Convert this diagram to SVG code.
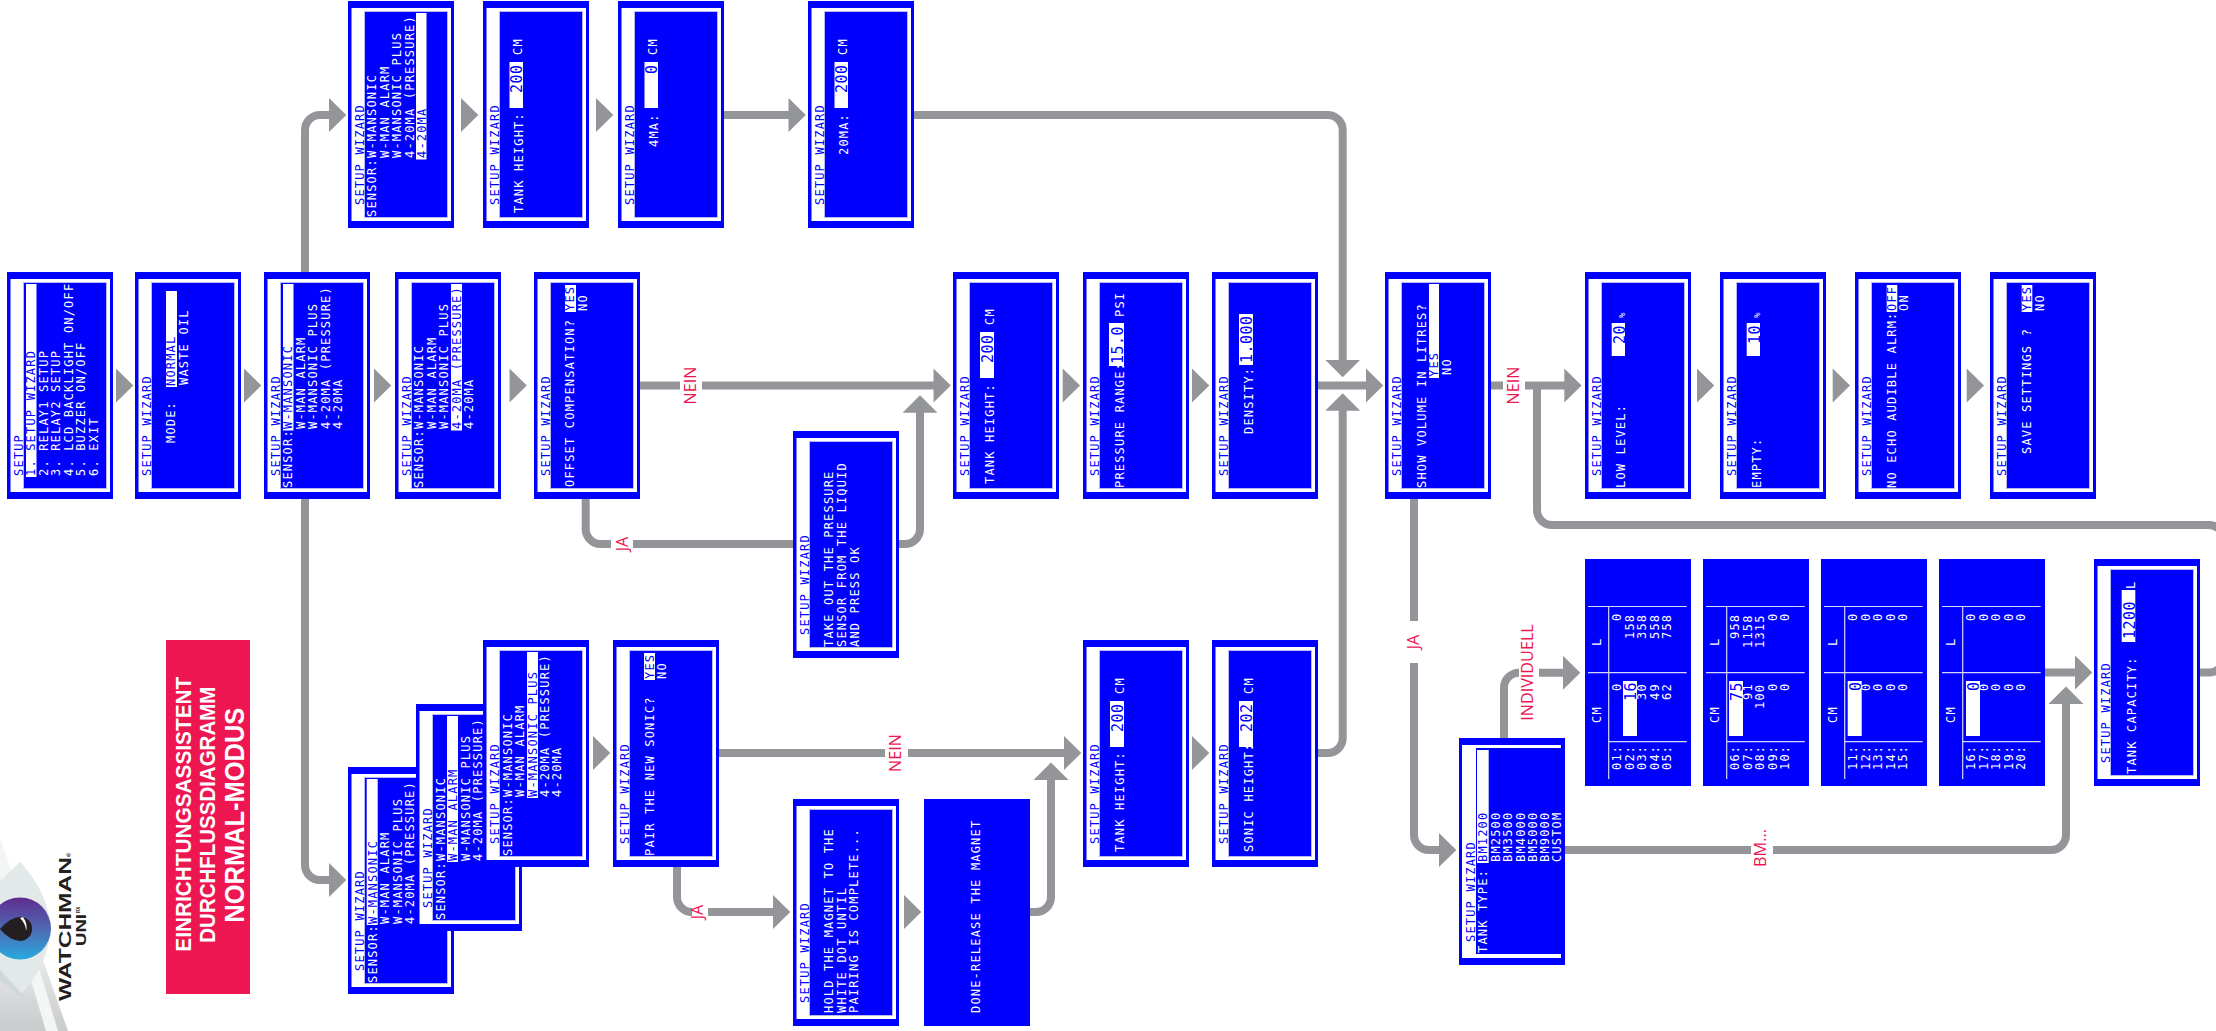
<svg xmlns="http://www.w3.org/2000/svg" width="2216" height="1031" viewBox="0 0 2216 1031">
<style>
text{font-family:"DejaVu Sans Mono","Liberation Mono",monospace;font-size:12px;letter-spacing:1.18px;fill:#fff}
.b{fill:#00f}
.v{fill:#00f;font-size:15px;letter-spacing:.5px}
.o{fill:#00f}.w{fill:#fff}.i{fill:#00f;stroke:#b8b8f8;stroke-width:1}.h{fill:#fff}
.c{fill:none;stroke:#939598;stroke-width:8}
.a{fill:#939598}
.l{font-family:"Open Sans","Liberation Sans",sans-serif;font-size:16.2px;letter-spacing:0;fill:#ed1651;text-anchor:middle}
.t{font-family:"Liberation Sans",Arial,sans-serif;font-weight:700;fill:#fff;letter-spacing:0}
.k{font-family:"Liberation Sans",Arial,sans-serif;font-weight:700;fill:#231f20;letter-spacing:0}
.g{stroke:#d8d8ff;stroke-width:1.2;fill:none}
</style>
<defs>
<g id="scr"><rect class="o" width="227" height="106"/><rect class="w" x="7" y="3.5" width="213" height="99.5"/><rect class="i" x="10.5" y="16.5" width="206" height="83"/></g>
<g id="grid"><rect class="o" width="227" height="106"/><path class="g" d="M7 23.7H179.5M113.3 3V101.7M179.5 3V101.7M44.3 23.7V101.7"/><text x="63" y="16">CM</text><text x="140" y="16">L</text></g>
<path id="ar" class="a" d="M0-17L17.3 0L0 17Z"/>
<path id="ad" class="a" d="M-17.3 0H17.3L0 17.3Z"/>
<path id="au" class="a" d="M-17.5 0H17.5L0-17.5Z"/>
<linearGradient id="gw" x1="0" y1="0" x2="0" y2="1"><stop offset="0" stop-color="#f6f7f7"/><stop offset=".6" stop-color="#e9eaeb"/><stop offset="1" stop-color="#c9cbcd"/></linearGradient>
<linearGradient id="gi" x1="0" y1="0" x2="0" y2="1"><stop offset="0" stop-color="#5f2d91"/><stop offset=".5" stop-color="#4f68b0"/><stop offset="1" stop-color="#27aae1"/></linearGradient>
</defs>

<g id="connectors">
<path class="c" d="M640 385.5H680M702 385.5H935M1318 385.5H1368"/>
<path class="c" d="M305 272V130a15 15 0 0 1 15-15H331M305 499V865a15 15 0 0 0 15 15H331"/>
<path class="c" d="M724 115H790M914 115H1327.7a15 15 0 0 1 15 15V362"/>
<path class="c" d="M585.7 499V529a15 15 0 0 0 15 15H611M633 544H793M899 544H905a15 15 0 0 0 15-15V411"/>
<path class="c" d="M719 753H885M908 753H1066M677 867V897a15 15 0 0 0 15 15M708 912H774M1030 912H1036a15 15 0 0 0 15-15V778M1318 753H1327.7a15 15 0 0 0 15-15V409"/>
<path class="c" d="M1491 385.5H1503M1525 385.5H1566M2200 672.5H2209a15 15 0 0 0 15-15V540a15 15 0 0 0-15-15H1552a15 15 0 0 1-15-15V385.5"/>
<path class="c" d="M1414 499V621M1414 663V835a15 15 0 0 0 15 15H1441M1504 738V687.7a15 15 0 0 1 15-15M1539 672.7H1565M1565 850H1751M1773 850H2051a15 15 0 0 0 15-15V702M2045 672.5H2077"/>
<use href="#ar" x="116" y="385.5"/><use href="#ar" x="244" y="385.5"/><use href="#ar" x="374" y="385.5"/><use href="#ar" x="509.5" y="385.5"/><use href="#ar" x="933.5" y="385.5"/><use href="#ar" x="1062.7" y="385.5"/><use href="#ar" x="1192" y="385.5"/><use href="#ar" x="1366" y="385.5"/><use href="#ar" x="1564.3" y="385.5"/>
<use href="#ar" x="1697" y="385.5"/><use href="#ar" x="1832.7" y="385.5"/><use href="#ar" x="1966.7" y="385.5"/>
<use href="#ar" x="329" y="115"/><use href="#ar" x="461" y="115"/><use href="#ar" x="596" y="115"/><use href="#ar" x="788.5" y="115"/>
<use href="#ar" x="329" y="880"/><use href="#ar" x="593" y="753"/><use href="#ar" x="1064" y="753"/><use href="#ar" x="773" y="912"/><use href="#ar" x="904" y="912"/><use href="#ar" x="1192" y="753"/>
<use href="#ar" x="1439" y="850"/><use href="#ar" x="1563" y="672.7"/><use href="#ar" x="2075" y="672.5"/>
<use href="#ad" x="1342.7" y="360"/><use href="#au" x="1342.7" y="410.7"/><use href="#au" x="920" y="412.7"/><use href="#au" x="1051" y="780"/><use href="#au" x="2066" y="704"/>
<text class="l" transform="translate(696 385.5) rotate(-90)">NEIN</text>
<text class="l" transform="translate(628 544) rotate(-90)">JA</text>
<text class="l" transform="translate(900.5 753) rotate(-90)">NEIN</text>
<text class="l" transform="translate(703 912) rotate(-90)">JA</text>
<text class="l" transform="translate(1518.5 385.5) rotate(-90)">NEIN</text>
<text class="l" transform="translate(1419 642) rotate(-90)">JA</text>
<text class="l" transform="translate(1533 672.5) rotate(-90)">INDIVIDUELL</text>
<text class="l" transform="translate(1766 848) rotate(-90)">BM...</text>
</g>

<g id="title">
<rect x="166" y="640" width="84" height="354" fill="#ed1651"/>
<text class="t" transform="translate(190.7 951.7) rotate(-90)" textLength="275" lengthAdjust="spacingAndGlyphs" style="font-size:22px">EINRICHTUNGSASSISTENT</text>
<text class="t" transform="translate(215 942.7) rotate(-90)" textLength="256" lengthAdjust="spacingAndGlyphs" style="font-size:22px">DURCHFLUSSDIAGRAMM</text>
<text class="t" transform="translate(244 922.7) rotate(-90)" textLength="215" lengthAdjust="spacingAndGlyphs" style="font-size:28px">NORMAL-MODUS</text>
</g>

<g id="logo">
<path d="M0 838L68 1031H0Z" fill="url(#gw)"/>
<path d="M0 838L58 1031H46L0 875Z" fill="#f4f5f5"/>
<path d="M20 861.7Q50 895 50 928.5Q50 962 20 996L0 975V882Z" fill="#e3e8e8"/>
<path d="M0 970Q14 985 24 996L20 996L0 980Z" fill="#cfd8d8"/>
<circle cx="20" cy="928.5" r="31" fill="url(#gi)"/>
<path d="M0 929Q10 917 21 916.7A12.2 12.2 0 0 1 21 941Q10 941 0 929Z" fill="#231f20"/>
<path d="M23 917Q28 924 26 931Q26 924 20 918Z" fill="#fff"/>
<text class="k" transform="translate(71 1001) rotate(-90)" textLength="144" lengthAdjust="spacingAndGlyphs" style="font-size:17px">WATCHMAN</text>
<text class="k" transform="translate(71 857) rotate(-90)" style="font-size:6px">®</text>
<text class="k" transform="translate(86 946) rotate(-90)" textLength="32" lengthAdjust="spacingAndGlyphs" style="font-size:14px">UNI</text>
<text class="k" transform="translate(80 913) rotate(-90)" style="font-size:4.5px">RX</text>
</g>

<g id="s1" transform="translate(7 499) rotate(-90)"><use href="#scr"/><text class="b" x="23" y="15.5">SETUP</text><rect class="h" x="22" y="19" width="193" height="10.5"/><text class="b" x="23" y="28">1. SETUP WIZARD</text><text x="23" y="40.5">2. RELAY1 SETUP</text><text x="23" y="53">3. RELAY2 SETUP</text><text x="23" y="65.5">4. LCD BACKLIGHT ON/OFF</text><text x="23" y="78">5. BUZZER ON/OFF</text><text x="23" y="90.5">6. EXIT</text></g>
<g id="s2" transform="translate(135 499) rotate(-90)"><use href="#scr"/><text class="b" x="23" y="15.5">SETUP WIZARD</text><text x="56" y="40">MODE:</text><rect class="h" x="112" y="31" width="96" height="11"/><text class="b" x="113" y="40">NORMAL</text><text x="114" y="53">WASTE OIL</text></g>
<g id="s3" transform="translate(264 499) rotate(-90)"><use href="#scr"/><text class="b" x="23" y="15.5">SETUP WIZARD</text><text x="11" y="28">SENSOR:</text><rect class="h" x="68.5" y="19" width="146.5" height="10.5"/><text class="b" x="70" y="28">W-MANSONIC</text><text x="70" y="40.5">W-MAN ALARM</text><text x="70" y="53">W-MANSONIC PLUS</text><text x="70" y="65.5">4-20MA (PRESSURE)</text><text x="70" y="78">4-20MA</text></g>
<g id="s4" transform="translate(395 499) rotate(-90)"><use href="#scr"/><text class="b" x="23" y="15.5">SETUP WIZARD</text><text x="11" y="28">SENSOR:</text><text x="70" y="28">W-MANSONIC</text><text x="70" y="40.5">W-MAN ALARM</text><text x="70" y="53">W-MANSONIC PLUS</text><rect class="h" x="68.5" y="56" width="146.5" height="11"/><text class="b" x="70" y="65.5">4-20MA (PRESSURE)</text><text x="70" y="78">4-20MA</text></g>
<g id="s5" transform="translate(534 499) rotate(-90)"><use href="#scr"/><text class="b" x="23" y="15.5">SETUP WIZARD</text><text x="12" y="40">OFFSET COMPENSATION?</text><rect class="h" x="187" y="31" width="27" height="11"/><text class="b" x="188" y="40">YES</text><text x="188" y="53">NO</text></g>

<g id="a1" transform="translate(348 228) rotate(-90)"><use href="#scr"/><text class="b" x="23" y="15.5">SETUP WIZARD</text><text x="11" y="28">SENSOR:</text><text x="70" y="28">W-MANSONIC</text><text x="70" y="40.5">W-MAN ALARM</text><text x="70" y="53">W-MANSONIC PLUS</text><text x="70" y="65.5">4-20MA (PRESSURE)</text><rect class="h" x="68.5" y="68" width="146.5" height="10.5"/><text class="b" x="70" y="77.5">4-20MA</text></g>
<g id="a2" transform="translate(483 228) rotate(-90)"><use href="#scr"/><text class="b" x="23" y="15.5">SETUP WIZARD</text><text x="15" y="40">TANK HEIGHT:</text><rect class="h" x="120" y="26.5" width="46" height="13.5"/><text class="v" x="135" y="39">200</text><text x="173" y="38.5">CM</text></g>
<g id="a3" transform="translate(618 228) rotate(-90)"><use href="#scr"/><text class="b" x="23" y="15.5">SETUP WIZARD</text><text x="81" y="40">4MA:</text><rect class="h" x="120" y="26.5" width="46" height="13.5"/><text class="v" x="154" y="39">0</text><text x="173" y="38.5">CM</text></g>
<g id="a4" transform="translate(808 228) rotate(-90)"><use href="#scr"/><text class="b" x="23" y="15.5">SETUP WIZARD</text><text x="73" y="40">20MA:</text><rect class="h" x="120" y="26.5" width="46" height="13.5"/><text class="v" x="135" y="39">200</text><text x="173" y="38.5">CM</text></g>

<g id="take" transform="translate(793 658) rotate(-90)"><use href="#scr"/><text class="b" x="23" y="15.5">SETUP WIZARD</text><text x="11" y="40">TAKE OUT THE PRESSURE</text><text x="11" y="53">SENSOR FROM THE LIQUID</text><text x="11" y="65.5">AND PRESS OK</text></g>

<g id="th" transform="translate(953 499) rotate(-90)"><use href="#scr"/><text class="b" x="23" y="15.5">SETUP WIZARD</text><text x="15" y="41">TANK HEIGHT:</text><rect class="h" x="121" y="27" width="46" height="14"/><text class="v" x="136" y="40">200</text><text x="174" y="41">CM</text></g>
<g id="pr" transform="translate(1083 499) rotate(-90)"><use href="#scr"/><text class="b" x="23" y="15.5">SETUP WIZARD</text><text x="11" y="40.5">PRESSURE RANGE:</text><rect class="h" x="133" y="26" width="43" height="15"/><text class="v" x="135" y="40">15.0</text><text x="182" y="40.5">PSI</text></g>
<g id="dn" transform="translate(1212 499) rotate(-90)"><use href="#scr"/><text class="b" x="23" y="15.5">SETUP WIZARD</text><text x="65" y="41">DENSITY:</text><rect class="h" x="134" y="27" width="51" height="14"/><text class="v" x="136" y="40">1.000</text></g>
<g id="sv" transform="translate(1385 499) rotate(-90)"><use href="#scr"/><text class="b" x="23" y="15.5">SETUP WIZARD</text><text x="11" y="41">SHOW VOLUME IN LITRES?</text><rect class="h" x="121" y="44" width="94" height="10"/><text class="b" x="122" y="53">YES</text><text x="124" y="66">NO</text></g>
<g id="ll" transform="translate(1585 499) rotate(-90)"><use href="#scr"/><text class="b" x="23" y="15.5">SETUP WIZARD</text><text x="11" y="40">LOW LEVEL:</text><rect class="h" x="143" y="26.7" width="33" height="13.3"/><text class="v" x="155" y="39.5">20</text><text x="181" y="40" style="font-size:9px">%</text></g>
<g id="em" transform="translate(1720 499) rotate(-90)"><use href="#scr"/><text class="b" x="23" y="15.5">SETUP WIZARD</text><text x="11" y="40.5">EMPTY:</text><rect class="h" x="143" y="26.7" width="33" height="13.3"/><text class="v" x="155" y="39.5">10</text><text x="181" y="40" style="font-size:9px">%</text></g>
<g id="ne" transform="translate(1855 499) rotate(-90)"><use href="#scr"/><text class="b" x="23" y="15.5">SETUP WIZARD</text><text x="11" y="41">NO ECHO AUDIBLE ALRM:</text><rect class="h" x="187" y="31.7" width="27" height="10.6"/><text class="b" x="188" y="40.8">OFF</text><text x="188" y="53">ON</text></g>
<g id="ss" transform="translate(1990 499) rotate(-90)"><use href="#scr"/><text class="b" x="23" y="15.5">SETUP WIZARD</text><text x="45" y="41">SAVE SETTINGS ?</text><rect class="h" x="187" y="31.7" width="27" height="10.6"/><text class="b" x="188" y="40.8">YES</text><text x="188" y="54">NO</text></g>

<g id="tt" transform="translate(1459 965) rotate(-90)"><rect class="o" width="227" height="106"/><rect class="w" x="7" y="3" width="213" height="99"/><rect class="o" x="11" y="17" width="206" height="85"/><text class="b" x="23" y="15.5">SETUP WIZARD</text><text x="12" y="28">TANK TYPE:</text><rect class="h" x="102" y="18" width="113" height="11.7"/><text class="b" x="103" y="28">BM1200</text><text x="103" y="40.5">BM2500</text><text x="103" y="53">BM3500</text><text x="103" y="65.5">BM4000</text><text x="103" y="77.5">BM5000</text><text x="103" y="90">BM9000</text><text x="103" y="102">CUSTOM</text></g>

<g id="t1" transform="translate(1585 786) rotate(-90)"><use href="#grid"/><text x="16" y="36">01:</text><text x="16" y="48.5">02:</text><text x="16" y="61">03:</text><text x="16" y="73.5">04:</text><text x="16" y="86">05:</text><rect class="h" x="50" y="38" width="55" height="14"/><text x="95" y="36">0</text><text class="v" x="85" y="51">16</text><text x="86" y="61">30</text><text x="86" y="73.5">49</text><text x="86" y="86">62</text><text x="165" y="36">0</text><text x="147" y="48.5">158</text><text x="147" y="61">358</text><text x="147" y="73.5">558</text><text x="147" y="86">758</text></g>
<g id="t2" transform="translate(1703 786) rotate(-90)"><use href="#grid"/><text x="16" y="36">06:</text><text x="16" y="48.5">07:</text><text x="16" y="61">08:</text><text x="16" y="73.5">09:</text><text x="16" y="86">10:</text><rect class="h" x="50" y="26" width="55" height="14"/><text class="v" x="85" y="39">75</text><text x="86" y="48.5">91</text><text x="77" y="61">100</text><text x="95" y="73.5">0</text><text x="95" y="86">0</text><text x="147" y="36">958</text><text x="138" y="48.5">1158</text><text x="138" y="61">1315</text><text x="165" y="73.5">0</text><text x="165" y="86">0</text></g>
<g id="t3" transform="translate(1821 786) rotate(-90)"><use href="#grid"/><text x="16" y="36">11:</text><text x="16" y="48.5">12:</text><text x="16" y="61">13:</text><text x="16" y="73.5">14:</text><text x="16" y="86">15:</text><rect class="h" x="50" y="26.7" width="55" height="14"/><text class="v" x="95" y="39.5">0</text><text x="95" y="48.5">0</text><text x="95" y="61">0</text><text x="95" y="73.5">0</text><text x="95" y="86">0</text><text x="165" y="36">0</text><text x="165" y="48.5">0</text><text x="165" y="61">0</text><text x="165" y="73.5">0</text><text x="165" y="86">0</text></g>
<g id="t4" transform="translate(1939 786) rotate(-90)"><use href="#grid"/><text x="16" y="36">16:</text><text x="16" y="48.5">17:</text><text x="16" y="61">18:</text><text x="16" y="73.5">19:</text><text x="16" y="86">20:</text><rect class="h" x="50" y="27" width="55" height="14"/><text class="v" x="95" y="40">0</text><text x="95" y="48.5">0</text><text x="95" y="61">0</text><text x="95" y="73.5">0</text><text x="95" y="86">0</text><text x="165" y="36">0</text><text x="165" y="48.5">0</text><text x="165" y="61">0</text><text x="165" y="73.5">0</text><text x="165" y="86">0</text></g>
<g id="tc" transform="translate(2094 786) rotate(-90)"><use href="#scr"/><text class="b" x="23" y="15.5">SETUP WIZARD</text><text x="12" y="41.5">TANK CAPACITY:</text><rect class="h" x="144" y="27.7" width="52" height="13.6"/><text class="v" x="147" y="40.5">1200</text><text x="197" y="41">L</text></g>

<g id="p1" transform="translate(348 994) rotate(-90)"><use href="#scr"/><text class="b" x="23" y="15.5">SETUP WIZARD</text><text x="11" y="28.5">SENSOR:</text><rect class="h" x="69" y="18.7" width="146" height="11"/><text class="b" x="70" y="28.5">W-MANSONIC</text><text x="70" y="41">W-MAN ALARM</text><text x="70" y="53.5">W-MANSONIC PLUS</text><text x="70" y="66">4-20MA (PRESSURE)</text><text x="70" y="78">4-20MA</text></g>
<g id="p2" transform="translate(416 931) rotate(-90)"><use href="#scr"/><text class="b" x="23" y="15.5">SETUP WIZARD</text><text x="11" y="28.5">SENSOR:</text><text x="70" y="28.5">W-MANSONIC</text><rect class="h" x="69" y="31" width="146" height="11"/><text class="b" x="70" y="41">W-MAN ALARM</text><text x="70" y="53.5">W-MANSONIC PLUS</text><text x="70" y="66">4-20MA (PRESSURE)</text><text x="70" y="78">4-20MA</text></g>
<g id="p3" transform="translate(483 867) rotate(-90)"><use href="#scr"/><text class="b" x="23" y="15.5">SETUP WIZARD</text><text x="11" y="28.5">SENSOR:</text><text x="70" y="28.5">W-MANSONIC</text><text x="70" y="41">W-MAN ALARM</text><rect class="h" x="69" y="44" width="146" height="11"/><text class="b" x="70" y="53.5">W-MANSONIC PLUS</text><text x="70" y="66">4-20MA (PRESSURE)</text><text x="70" y="78">4-20MA</text></g>
<g id="ps" transform="translate(613 867) rotate(-90)"><use href="#scr"/><text class="b" x="23" y="15.5">SETUP WIZARD</text><text x="11" y="40.5">PAIR THE NEW SONIC?</text><rect class="h" x="187" y="31" width="27" height="11"/><text class="b" x="188" y="40.5">YES</text><text x="188" y="53">NO</text></g>
<g id="hold" transform="translate(793 1026) rotate(-90)"><use href="#scr"/><text class="b" x="23" y="15.5">SETUP WIZARD</text><text x="13" y="40">HOLD THE MAGNET TO THE</text><text x="13" y="52.5">WHITE DOT UNTIL</text><text x="13" y="65">PAIRING IS COMPLETE...</text></g>
<g id="done" transform="translate(924 1026) rotate(-90)"><rect class="o" width="227" height="106"/><text x="13" y="56">DONE-RELEASE THE MAGNET</text></g>
<g id="th2" transform="translate(1083 867) rotate(-90)"><use href="#scr"/><text class="b" x="23" y="15.5">SETUP WIZARD</text><text x="15" y="41">TANK HEIGHT:</text><rect class="h" x="120" y="27" width="46" height="14"/><text class="v" x="135" y="40">200</text><text x="173" y="41">CM</text></g>
<g id="sh" transform="translate(1212 867) rotate(-90)"><use href="#scr"/><text class="b" x="23" y="15.5">SETUP WIZARD</text><text x="15" y="41">SONIC HEIGHT:</text><rect class="h" x="120" y="27" width="46" height="14"/><text class="v" x="135" y="40">202</text><text x="173" y="41">CM</text></g>
</svg>
